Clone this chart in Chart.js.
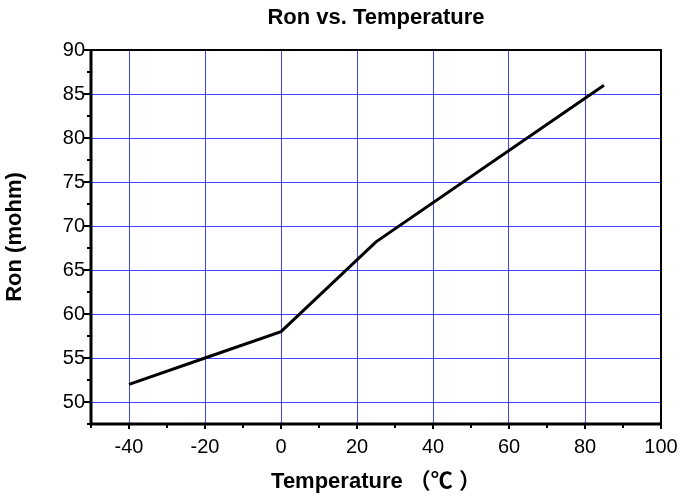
<!DOCTYPE html>
<html>
<head>
<meta charset="utf-8">
<title>Ron vs. Temperature</title>
<script src="https://cdn.jsdelivr.net/npm/chart.js@4.4.1/dist/chart.umd.min.js"></script>
<style>
  html, body { margin:0; padding:0; background:#fff; }
  #wrap { width:696px; height:500px; }
</style>
</head>
<body>
<div id="wrap"><canvas id="chart" width="696" height="500"></canvas></div>
<script>
/* ───────── data ───────── */
const temps = [-40, -20, 0, 25, 85];          // °C
const ron   = [52, 55, 58, 68.2, 86];          // mohm

const xMin = -50, xMax = 100, xStep = 10;
const yMin = 47.5, yMax = 90, yStep = 2.5;

const FONT = "'Liberation Sans', Arial, 'Noto Sans CJK SC', sans-serif";
const GRID = 'rgba(20,20,255,0.8)';

/* ---------- helpers ---------- */
const isMajorX = v => (v + 40) % 20 === 0;
const isMajorY = v => v % 5 === 0;

/* ---------- frame + minor ticks plugin ---------- */
const framePlugin = {
  id: 'frame',
  afterDraw(chart) {
    const { ctx, chartArea: a, scales: { x, y } } = chart;
    ctx.save();
    ctx.strokeStyle = '#000';
    ctx.lineCap = 'butt';

    // tick marks (outside)
    ctx.lineWidth = 2;
    x.ticks.forEach(t => {
      const px = Math.round(x.getPixelForValue(t.value));
      const len = isMajorX(t.value) ? 5 : 4;
      ctx.beginPath(); ctx.moveTo(px, a.bottom); ctx.lineTo(px, a.bottom + len); ctx.stroke();
    });
    y.ticks.forEach(t => {
      const py = Math.round(y.getPixelForValue(t.value));
      const len = isMajorY(t.value) ? 7 : 4;
      ctx.beginPath(); ctx.moveTo(a.left, py); ctx.lineTo(a.left - len, py); ctx.stroke();
    });

    // box
    ctx.lineWidth = 2;
    ctx.strokeRect(a.left, a.top, a.right - a.left, a.bottom - a.top);
    ctx.lineWidth = 3;
    ctx.beginPath();
    ctx.moveTo(a.left, a.top); ctx.lineTo(a.left, a.bottom); ctx.lineTo(a.right, a.bottom);
    ctx.stroke();
    ctx.restore();
  }
};

new Chart(document.getElementById('chart'), {
  type: 'line',
  data: {
    datasets: [{
      data: temps.map((t, i) => ({ x: t, y: ron[i] })),
      borderColor: '#000',
      borderWidth: 3,
      pointRadius: 0,
      tension: 0,
      fill: false
    }]
  },
  options: {
    responsive: false,
    animation: false,
    layout: { padding: { left: 0, right: 35, top: 0, bottom: 0 } },
    plugins: {
      legend: { display: false },
      tooltip: { enabled: false },
      title: {
        display: true,
        text: 'Ron vs. Temperature',
        color: '#000',
        fullSize: false,
        font: { family: FONT, size: 22, weight: 'bold' },
        padding: { top: 5, bottom: 18.6 }
      }
    },
    scales: {
      x: {
        type: 'linear',
        min: xMin, max: xMax,
        afterFit: s => { s.height = 76; },
        border: { display: false },
        grid: {
          drawTicks: false,
          color: c => (c.tick && isMajorX(c.tick.value) && c.tick.value !== xMax) ? GRID : 'transparent',
          lineWidth: 1
        },
        ticks: {
          stepSize: xStep,
          autoSkip: false,
          maxRotation: 0,
          padding: 11,
          color: '#000',
          font: { family: FONT, size: 20 },
          callback: v => isMajorX(v) ? v : ''
        },
        title: {
          display: true,
          text: 'Temperature （℃ ）',
          color: '#000',
          font: { family: FONT, size: 22, weight: 'bold' },
          padding: { top: 0, bottom: 5 }
        }
      },
      y: {
        min: yMin, max: yMax,
        afterFit: s => { s.width = 91; },
        border: { display: false },
        grid: {
          drawTicks: false,
          color: c => (c.tick && isMajorY(c.tick.value) && c.tick.value !== yMax) ? GRID : 'transparent',
          lineWidth: 1
        },
        ticks: {
          stepSize: yStep,
          autoSkip: false,
          padding: 6,
          color: '#000',
          font: { family: FONT, size: 20 },
          callback: v => isMajorY(v) ? v : ''
        },
        title: {
          display: true,
          text: 'Ron (mohm)',
          color: '#000',
          font: { family: FONT, size: 22, weight: 'bold' },
          padding: { top: 2, bottom: 0 }
        }
      }
    }
  },
  plugins: [framePlugin]
});
</script>
</body>
</html>
